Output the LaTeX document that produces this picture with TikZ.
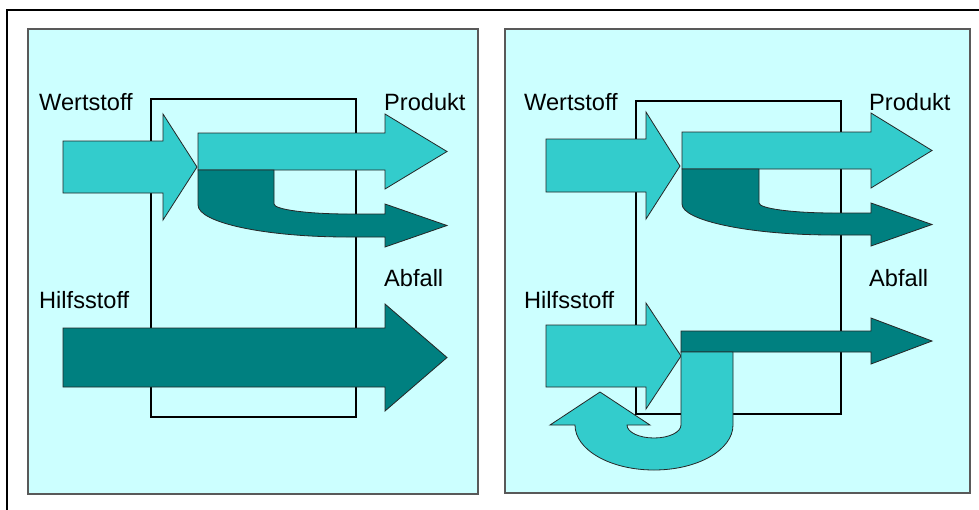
\documentclass[tikz,border=0pt]{standalone}
\usepackage{fontspec}
\setmainfont{Liberation Sans}
\definecolor{panelfill}{HTML}{CCFFFF}
\definecolor{flowlight}{HTML}{33CCCC}
\definecolor{flowdark}{HTML}{008080}
\begin{document}
\begin{tikzpicture}[x=1pt,y=-1pt]
    \tikzset{panel/.style = {fill=panelfill, draw=gray!70!black, line width=1.2pt}}
    \tikzset{process/.style = {draw=black, line width=2.6pt}}
    \tikzset{light/.style = {fill=flowlight, draw=black!85, line width=0.8pt, line join=miter}}
    \tikzset{dark/.style = {fill=flowdark, draw=black!85, line width=0.8pt, line join=miter}}
    \tikzset{flowtext/.style = {anchor=base west, inner sep=0pt, font=\fontsize{23.6}{28}\selectfont}}
    \useasboundingbox (0,0) rectangle (979,509);
    \draw[line width=2.6pt] (7,520) -- (7,10) -- (990,10);
    % left panel
    \draw[panel] (28,29) rectangle (478,494);
    \draw[process] (151,99) rectangle (356,417);
    \node[flowtext] (wertL) at (39,110) {Wertstoff};
    \node[flowtext] (prodL) at (384,110) {Produkt};
    \node[flowtext] (abfL) at (384,286) {Abfall};
    \node[flowtext] (hilfL) at (39,308) {Hilfsstoff};
    \draw[light] (63,141) -- (163,141) -- (163,114) -- (197,167) -- (163,220) -- (163,193) -- (63,193) -- cycle;
    \draw[light] (198,133) -- (385,133) -- (385,114) -- (447,151.5) -- (385,189) -- (385,170) -- (198,170) -- cycle;
    \draw[dark] (198,170) -- (274,170) -- (274,204)
        .. controls (274,209.5) and (307.6,214) .. (349,214)
        -- (385,214) -- (385,204) -- (447,225.5) -- (385,247) -- (385,237) -- (348,237)
        .. controls (265.2,237) and (198,222.7) .. (198,205) -- cycle;
    \draw[dark] (63,328) -- (385,328) -- (385,304) -- (447,357.5) -- (385,411) -- (385,387) -- (63,387) -- cycle;
    % right panel
    \draw[panel] (505,29) rectangle (970,493);
    \draw[process] (636,101) rectangle (841,414);
    \node[flowtext] (wertR) at (524,110) {Wertstoff};
    \node[flowtext] (prodR) at (869,110) {Produkt};
    \node[flowtext] (abfR) at (869,286) {Abfall};
    \node[flowtext] (hilfR) at (524,308) {Hilfsstoff};
    \draw[light] (546,139) -- (646,139) -- (646,112) -- (680,166) -- (646,219) -- (646,192) -- (546,192) -- cycle;
    \draw[light] (682,132) -- (871,132) -- (871,113) -- (932,150.5) -- (871,188) -- (871,169) -- (682,169) -- cycle;
    \draw[dark] (682,169) -- (759,169) -- (759,203)
        .. controls (759,208.5) and (792.4,213) .. (834,213)
        -- (871,213) -- (871,203) -- (932,224.5) -- (871,246) -- (871,235) -- (833,235)
        .. controls (750,235) and (682,220.7) .. (682,204) -- cycle;
    \draw[light] (546,325) -- (646,325) -- (646,303) -- (681,356) -- (646,409) -- (646,387) -- (546,387) -- cycle;
    \draw[dark] (681,331) -- (871,331) -- (871,318) -- (932,341) -- (871,364) -- (871,352) -- (681,352) -- cycle;
    \draw[light] (681,352) -- (681,425)
        .. controls (681,432.2) and (668.9,438) .. (654,438)
        .. controls (639.1,438) and (627,432.2) .. (627,425)
        -- (650,425) -- (600,392) -- (550,425) -- (575,425)
        .. controls (575,449.9) and (610.4,470) .. (654,470)
        .. controls (697.6,470) and (733,449.9) .. (733,425)
        -- (733,352) -- cycle;
\end{tikzpicture}
\end{document}
